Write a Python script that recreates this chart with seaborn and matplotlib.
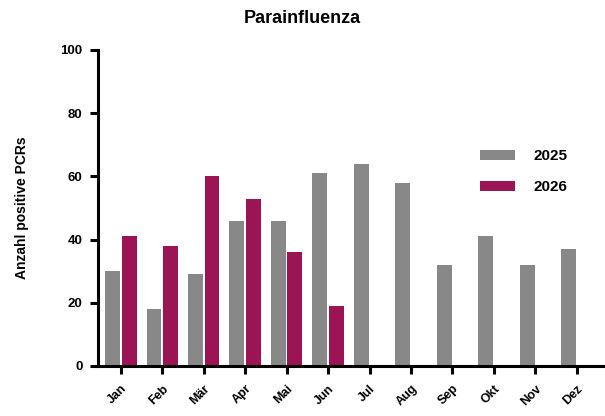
import numpy as np
import pandas as pd
import seaborn as sns
import matplotlib.pyplot as plt

sns.set_theme(style="white")
plt.rcParams["font.family"] = ["Liberation Sans", "DejaVu Sans"]
plt.rcParams["font.weight"] = "bold"
plt.rcParams["text.color"] = "black"
plt.rcParams["axes.labelcolor"] = "black"
plt.rcParams["xtick.color"] = "black"
plt.rcParams["ytick.color"] = "black"

months = ["Jan", "Feb", "Mär", "Apr", "Mai", "Jun",
          "Jul", "Aug", "Sep", "Okt", "Nov", "Dez"]
values_2025 = [30, 18, 29, 46, 46, 61, 64, 58, 32, 41, 32, 37]
values_2026 = [41, 38, 60, 53, 36, 19]
years = ["2025", "2026"]
colors = ["#888888", "#9B1454"]

df = pd.concat([
    pd.DataFrame({"Monat": months, "Jahr": "2025", "PCRs": values_2025}),
    pd.DataFrame({"Monat": months[:len(values_2026)], "Jahr": "2026", "PCRs": values_2026}),
])

fig = plt.figure(figsize=(6.05, 4.16), dpi=100)
ax = fig.add_axes([98 / 605, 50 / 416, 505 / 605, 316 / 416])

sns.barplot(
    data=df, x="Monat", y="PCRs", hue="Jahr",
    order=months, hue_order=years, palette=colors,
    width=0.8, gap=0.1, saturation=1, linewidth=0,
    ax=ax
)

ax.set_xlim(-0.55, 11.63)
ax.set_ylim(0, 100)
ax.set_yticks([0, 20, 40, 60, 80, 100])
ax.set_xlabel("")
ax.set_ylabel("Anzahl positive PCRs", fontsize=10, fontweight="bold", labelpad=23)

for side in ["top", "right"]:
    ax.spines[side].set_visible(False)
for side in ["left", "bottom"]:
    ax.spines[side].set_linewidth(2.2)
    ax.spines[side].set_color("black")

ax.tick_params(axis="y", direction="out", length=6, width=2.2, labelsize=9.5, pad=5, left=True)
ax.tick_params(axis="x", direction="out", length=6, width=2.2, labelsize=9, pad=6, bottom=True)
for lab in ax.get_yticklabels():
    lab.set_fontweight("bold")
plt.setp(ax.get_xticklabels(), rotation=45, ha="right", rotation_mode="anchor",
         fontweight="bold", fontsize=9)

ax.legend(
    loc="upper left", bbox_to_anchor=(0.742, 0.71), frameon=False,
    handlelength=2.3, handleheight=0.65, handletextpad=1.2,
    labelspacing=1.1, borderpad=0, prop={"weight": "bold", "size": 11}
)

fig.suptitle("Parainfluenza", x=0.5, y=0.975, fontsize=13, fontweight="bold")

plt.savefig("out.png", dpi=100)
